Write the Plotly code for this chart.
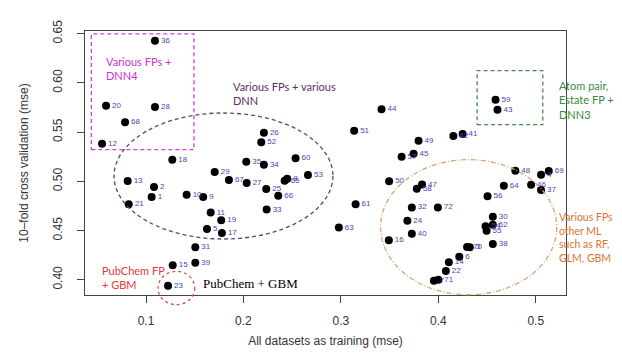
import plotly.graph_objects as go

# ---- data ----
ids = list(range(1, 73))
train_mse = [0.1058, 0.1082, 0.4323, 0.5054, 0.1626, 0.4215, 0.3954, 0.2449, 0.1587, 0.1417,
             0.1664, 0.0549, 0.0812, 0.4108, 0.1274, 0.3492, 0.1779, 0.1270, 0.1772, 0.0590,
             0.0823, 0.4077, 0.1226, 0.3682, 0.2234, 0.2210, 0.2033, 0.1092, 0.1705, 0.4559,
             0.1506, 0.3728, 0.2238, 0.2210, 0.2029, 0.1092, 0.5054, 0.4559, 0.1506, 0.3728,
             0.4249, 0.4154, 0.4607, 0.3417, 0.3746, 0.4952, 0.3833, 0.4790, 0.3797, 0.3495,
             0.3136, 0.2183, 0.2662, 0.4484, 0.4495, 0.4505, 0.3623, 0.3779, 0.4587, 0.2535,
             0.3151, 0.4559, 0.2979, 0.4672, 0.2423, 0.2357, 0.1851, 0.0785, 0.5133, 0.4295,
             0.4000, 0.3995]
cv_mse = [0.4840, 0.4942, 0.4329, 0.5067, 0.4515, 0.4234, 0.3989, 0.5026, 0.4840, 0.4864,
          0.4683, 0.5382, 0.5003, 0.4178, 0.4146, 0.4401, 0.4475, 0.5220, 0.4605, 0.5768,
          0.4766, 0.4088, 0.3939, 0.4600, 0.4922, 0.5494, 0.4983, 0.5755, 0.5095, 0.4639,
          0.4329, 0.4734, 0.4713, 0.5169, 0.5199, 0.6429, 0.4912, 0.4363, 0.4173, 0.4466,
          0.5481, 0.5460, 0.5728, 0.5733, 0.5280, 0.4965, 0.4967, 0.5108, 0.5413, 0.5000,
          0.5514, 0.5396, 0.5064, 0.4543, 0.4498, 0.4848, 0.5250, 0.4924, 0.5829, 0.5234,
          0.4766, 0.4559, 0.4530, 0.4955, 0.5006, 0.4854, 0.5013, 0.5600, 0.5105, 0.4332,
          0.4000, 0.4734]
x_ticks = [0.1, 0.2, 0.3, 0.4, 0.5]
y_ticks = [0.40, 0.45, 0.50, 0.55, 0.60, 0.65]

XR = [0.0374, 0.531]
YR = [0.3845, 0.6527]

def fx(v):
    return (v - XR[0]) / (XR[1] - XR[0])

def fy(v):
    return (v - YR[0]) / (YR[1] - YR[0])

fig = go.Figure()
fig.add_trace(go.Scatter(
    x=train_mse, y=cv_mse, mode="markers+text",
    text=[str(i) for i in ids], textposition="middle right",
    textfont=dict(family="Liberation Sans", size=8, color="#4646b8"),
    marker=dict(color="black", size=8), cliponaxis=False, showlegend=False,
))

def shape(kind, x0, x1, y0, y1, color, dash, width=1.3):
    fig.add_shape(type=kind, xref="paper", yref="paper",
                  x0=fx(x0), x1=fx(x1), y0=fy(y0), y1=fy(y1),
                  line=dict(color=color, width=width, dash=dash), layer="above")

shape("rect", 0.0439, 0.1492, 0.5321, 0.6497, "#d040d0", "4px,3px")
shape("circle", 0.0672, 0.2918, 0.4414, 0.5694, "#6a3d7a", "4px,3px")
shape("rect", 0.4398, 0.5072, 0.5575, 0.6124, "#4a8a4a", "4px,3px")
shape("circle", 0.3407, 0.5215, 0.3848, 0.5220, "#d9a478", "5px,2px,1px,2px")
shape("circle", 0.1123, 0.1500, 0.3746, 0.4085, "#e05050", "3px,3px")

def note(x, y, text, color, family="Lato", size=11):
    fig.add_annotation(x=x, y=y, xref="x", yref="y", text=text, showarrow=False,
                       xanchor="left", yanchor="middle", align="left", borderpad=0,
                       font=dict(family=family, size=size, color=color))

note(0.0576, 0.6151, "Various FPs +<br>DNN4", "#cc33cc")
note(0.1882, 0.5894, "Various FPs + various<br>DNN", "#5a2d6a")
note(0.5226, 0.5829, "Atom pair,<br>Estate FP +<br>DNN3", "#3b8a3b")
note(0.5226, 0.4432, "Various FPs +<br>other ML<br>such as RF,<br>GLM, GBM", "#e0732e", size=10.5)
note(0.0535, 0.4025, "PubChem FP<br>+ GBM", "#e03a3a")
note(0.1577, 0.3959, "PubChem + GBM", "black", family="Liberation Serif", size=13)

axis_common = dict(showgrid=False, zeroline=False, showline=True, mirror=True,
                   linecolor="#444", linewidth=1, ticks="outside", ticklen=7,
                   tickcolor="#444", automargin=False,
                   tickfont=dict(family="Liberation Sans", size=12, color="#333"))

fig.update_xaxes(range=XR, tickvals=x_ticks, ticktext=[f"{v:.1f}" for v in x_ticks],
                 title=dict(text="All datasets as training (mse)",
                            font=dict(family="Liberation Sans", size=12, color="#333"), standoff=9),
                 ticklabelstandoff=8, **axis_common)
fig.update_yaxes(range=YR, tickvals=y_ticks, ticktext=[f"{v:.2f}" for v in y_ticks],
                 tickangle=-90,
                 title=dict(text="10\u2013fold cross validation (mse)",
                            font=dict(family="Liberation Sans", size=12, color="#333"), standoff=20),
                 ticklabelstandoff=10, **axis_common)

fig.update_layout(width=622, height=354, margin=dict(l=77, r=64, t=23, b=67),
                  plot_bgcolor="white", paper_bgcolor="white")

fig.write_html("out.html")
